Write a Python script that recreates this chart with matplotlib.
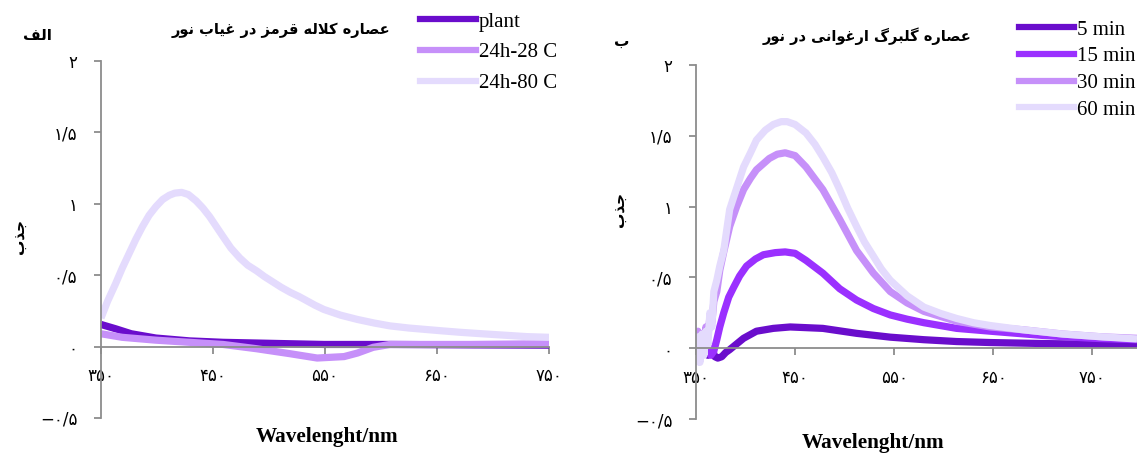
import matplotlib
matplotlib.use("Agg")
import matplotlib.pyplot as plt
from matplotlib.lines import Line2D

# ---------------------------
# Data
# ---------------------------
# left panel (red stigma extract, dark)
wl_plant = [350, 363, 377, 399, 429, 459, 489, 549, 608, 680, 750]
plant = [0.155, 0.125, 0.09, 0.06, 0.04, 0.03, 0.025, 0.015, 0.015, 0.012, 0.01]

wl_28 = [350, 369, 399, 429, 459, 489, 519, 543, 567, 579, 593, 608, 680, 750]
c28 = [0.09, 0.065, 0.045, 0.03, 0.015, -0.015, -0.05, -0.08, -0.07, -0.045, -0.005, 0.015, 0.015, 0.02]

wl_80 = [350, 356, 363, 369, 375, 381, 387, 393, 399, 405, 411, 416, 422, 428, 435, 441, 447,
         453, 459, 466, 474, 481, 489, 496, 504, 511, 519, 527, 534, 541, 549, 564, 579, 594,
         608, 625, 640, 655, 671, 690, 710, 730, 750]
c80 = [0.2, 0.32, 0.44, 0.55, 0.65, 0.75, 0.84, 0.92, 0.98, 1.03, 1.06, 1.075, 1.08, 1.065, 1.02,
       0.97, 0.91, 0.84, 0.77, 0.69, 0.62, 0.57, 0.53, 0.49, 0.45, 0.415, 0.38, 0.35, 0.32, 0.29,
       0.26, 0.22, 0.19, 0.165, 0.145, 0.13, 0.12, 0.11, 0.1, 0.09, 0.08, 0.07, 0.065]

# right panel (purple petal extract, light)
wl_5 = [350, 353, 356, 359, 362, 366, 369, 372, 376, 380, 384, 391, 398, 411, 428, 445,
        478, 512, 546, 580, 613, 647, 700, 750, 795]
m5 = [-0.08, 0.02, -0.04, 0.03, -0.05, 0.0, -0.06, -0.07, -0.06, -0.03, -0.01, 0.03, 0.07, 0.12,
      0.14, 0.15, 0.14, 0.105, 0.078, 0.06, 0.047, 0.04, 0.033, 0.028, 0.025]

wl_15 = [350, 353, 356, 359, 362, 365, 368, 371, 374, 378, 383, 388, 394, 401, 410, 418, 430,
         440, 450, 461, 478, 495, 512, 529, 546, 563, 580, 613, 647, 700, 750, 795]
m15 = [0.1, 0.05, 0.08, -0.02, 0.03, -0.05, -0.02, 0.06, 0.15, 0.25, 0.36, 0.43, 0.51, 0.58,
       0.63, 0.66, 0.675, 0.68, 0.67, 0.62, 0.53, 0.42, 0.34, 0.28, 0.235, 0.205, 0.18, 0.14,
       0.12, 0.09, 0.07, 0.06]

wl_30 = [350, 352, 354, 356, 358, 360, 362, 364, 366, 368, 371, 374, 378, 384, 391, 398, 405,
         411, 424, 432, 440, 450, 461, 478, 495, 512, 529, 546, 563, 580, 613, 647, 680, 720,
         760, 795]
m30 = [0.05, 0.12, -0.02, 0.1, 0.02, 0.15, 0.08, 0.22, 0.18, 0.33, 0.4, 0.55, 0.68, 0.86, 1.0,
       1.12, 1.2, 1.26, 1.34, 1.37, 1.38, 1.36, 1.28, 1.12, 0.91, 0.69, 0.53, 0.40, 0.32, 0.26,
       0.19, 0.15, 0.13, 0.1, 0.08, 0.07]

wl_60 = [350, 352, 354, 356, 358, 360, 362, 364, 366, 368, 371, 374, 378, 384, 391, 398, 405,
         411, 420, 428, 436, 442, 450, 461, 470, 478, 487, 495, 503, 512, 520, 529, 537, 546,
         563, 580, 597, 613, 630, 647, 680, 720, 760, 795]
m60 = [-0.12, 0.08, -0.1, 0.1, -0.05, 0.12, 0.02, 0.25, 0.15, 0.4, 0.48, 0.58, 0.69, 0.98, 1.13,
       1.28, 1.38, 1.47, 1.54, 1.58, 1.6, 1.6, 1.58, 1.52, 1.44, 1.35, 1.24, 1.12, 0.99, 0.86,
       0.75, 0.65, 0.56, 0.48, 0.37, 0.29, 0.245, 0.21, 0.18, 0.16, 0.13, 0.1, 0.08, 0.065]

y_ticks = [-0.5, 0, 0.5, 1, 1.5, 2]
x_ticks = [350, 450, 550, 650, 750]

left_labels = ["plant", "24h-28 C", "24h-80 C"]
right_labels = ["5 min", "15 min", "30 min", "60 min"]

c_dark = "#6a0dcc"
c_mid = "#9b30ff"
c_light = "#c690f9"
c_pale = "#e4dbfd"

# ---------------------------
# Persian text helpers (matplotlib has no Arabic shaping)
# ---------------------------
FORMS = {
    "ا": ("\ufe8d", "\ufe8e", None, None),
    "ب": ("\ufe8f", "\ufe90", "\ufe91", "\ufe92"),
    "ج": ("\ufe9d", "\ufe9e", "\ufe9f", "\ufea0"),
    "د": ("\ufea9", "\ufeaa", None, None),
    "ذ": ("\ufeab", "\ufeac", None, None),
    "ر": ("\ufead", "\ufeae", None, None),
    "ز": ("\ufeaf", "\ufeb0", None, None),
    "ص": ("\ufeb9", "\ufeba", "\ufebb", "\ufebc"),
    "ع": ("\ufec9", "\ufeca", "\ufecb", "\ufecc"),
    "غ": ("\ufecd", "\ufece", "\ufecf", "\ufed0"),
    "ف": ("\ufed1", "\ufed2", "\ufed3", "\ufed4"),
    "ق": ("\ufed5", "\ufed6", "\ufed7", "\ufed8"),
    "ل": ("\ufedd", "\ufede", "\ufedf", "\ufee0"),
    "م": ("\ufee1", "\ufee2", "\ufee3", "\ufee4"),
    "ن": ("\ufee5", "\ufee6", "\ufee7", "\ufee8"),
    "ه": ("\ufee9", "\ufeea", "\ufeeb", "\ufeec"),
    "و": ("\ufeed", "\ufeee", None, None),
    "ک": ("\ufb8e", "\ufb8f", "\ufb90", "\ufb91"),
    "گ": ("\ufb92", "\ufb93", "\ufb94", "\ufb95"),
    "ی": ("\ufbfc", "\ufbfd", "\ufbfe", "\ufbff"),
}


def fa_text(text):
    out = []
    i = 0
    while i < len(text):
        ch = text[i]
        if ch not in FORMS:
            out.append(ch)
            i += 1
            continue
        prev = text[i - 1] if i > 0 else ""
        prev_j = prev in FORMS and FORMS[prev][2] is not None
        if ch == "ل" and i + 1 < len(text) and text[i + 1] == "ا":
            out.append("\ufefc" if prev_j else "\ufefb")
            i += 2
            continue
        nxt = text[i + 1] if i + 1 < len(text) else ""
        next_j = FORMS[ch][2] is not None and nxt in FORMS
        iso, fin, ini, med = FORMS[ch]
        if prev_j and next_j:
            out.append(med)
        elif prev_j:
            out.append(fin)
        elif next_j:
            out.append(ini)
        else:
            out.append(iso)
        i += 1
    return "".join(reversed(out))


def fa_num(v):
    s = ("%g" % v).replace(".", "/").replace("-", "\u2212")
    return s.translate(str.maketrans("0123456789", "۰۱۲۳۴۵۶۷۸۹"))


# ---------------------------
# Figure
# ---------------------------
plt.rcParams["font.family"] = ["DejaVu Sans"]
fig = plt.figure(figsize=(11.37, 4.53), dpi=100)

ax1 = fig.add_axes([101 / 1137, 35 / 453, 448 / 1137, 357 / 453])
ax2 = fig.add_axes([696 / 1137, 34 / 453, 441 / 1137, 354 / 453])

lw = 5.2
ax1.plot(wl_plant, plant, color=c_dark, lw=lw, solid_capstyle="butt")
ax1.plot(wl_28, c28, color=c_light, lw=lw, solid_capstyle="butt")
ax1.plot(wl_80, c80, color=c_pale, lw=lw, solid_capstyle="butt")

ax2.plot(wl_5, m5, color=c_dark, lw=lw, solid_capstyle="butt")
ax2.plot(wl_15, m15, color=c_mid, lw=lw, solid_capstyle="butt")
ax2.plot(wl_30, m30, color=c_light, lw=lw, solid_capstyle="butt")
ax2.plot(wl_60, m60, color=c_pale, lw=lw, solid_capstyle="butt")

for ax, xmax in [(ax1, 750), (ax2, 795)]:
    ax.set_xlim(350, xmax)
    ax.set_ylim(-0.5, 2)
    ax.spines["top"].set_visible(False)
    ax.spines["right"].set_visible(False)
    ax.spines["bottom"].set_position(("data", 0))
    for s in ["left", "bottom"]:
        ax.spines[s].set_color("#8c8c8c")
        ax.spines[s].set_linewidth(1.3)
    ax.set_yticks(y_ticks)
    ax.set_yticklabels([fa_num(v) for v in y_ticks])
    ax.set_xticks(x_ticks)
    ax.set_xticklabels([fa_num(v) for v in x_ticks])
    ax.tick_params(axis="both", colors="#8c8c8c", length=5, width=1.3, labelcolor="black",
                   labelsize=12)
    ax.tick_params(axis="x", direction="out", pad=10)
    ax.tick_params(axis="y", pad=12)
    ax.patch.set_alpha(0)

# legends
h1 = [Line2D([], [], color=c, lw=4.5) for c in [c_dark, c_light, c_pale]]
fig.legend(h1, left_labels, loc="upper left", bbox_to_anchor=(420 / 1137, 1 - 12 / 453),
           frameon=False, prop={"family": "Liberation Serif", "size": 15},
           handlelength=2.7, handletextpad=0.12, labelspacing=0.53, borderpad=0,
           borderaxespad=0)
h2 = [Line2D([], [], color=c, lw=4.5) for c in [c_dark, c_mid, c_light, c_pale]]
fig.legend(h2, right_labels, loc="upper left", bbox_to_anchor=(1019 / 1137, 1 - 20 / 453),
           frameon=False, prop={"family": "Liberation Serif", "size": 15},
           handlelength=2.65, handletextpad=0.12, labelspacing=0.34, borderpad=0,
           borderaxespad=0)

# titles and panel letters
fig.text(281 / 1137, 1 - 30 / 453, fa_text("عصاره کلاله قرمز در غیاب نور"),
         ha="center", va="center", fontsize=10.5, fontweight="bold")
fig.text(867 / 1137, 1 - 36 / 453, fa_text("عصاره گلبرگ ارغوانی در نور"),
         ha="center", va="center", fontsize=10.5, fontweight="bold")
fig.text(37 / 1137, 1 - 35 / 453, fa_text("الف"), ha="center", va="center",
         fontsize=11, fontweight="bold")
fig.text(622 / 1137, 1 - 41 / 453, fa_text("ب"), ha="center", va="center",
         fontsize=11, fontweight="bold")

# axis labels
fig.text(20 / 1137, 1 - 237 / 453, fa_text("جذب"), rotation=90, ha="center", va="center",
         fontsize=11, fontweight="bold")
fig.text(620 / 1137, 1 - 210 / 453, fa_text("جذب"), rotation=90, ha="center", va="center",
         fontsize=11, fontweight="bold")
fig.text(327 / 1137, 1 - 437 / 453, "Wavelenght/nm", ha="center", va="center",
         family="Liberation Serif", fontweight="bold", fontsize=15.3)
fig.text(873 / 1137, 1 - 443 / 453, "Wavelenght/nm", ha="center", va="center",
         family="Liberation Serif", fontweight="bold", fontsize=15.3)

fig.savefig("out.png", dpi=100)
